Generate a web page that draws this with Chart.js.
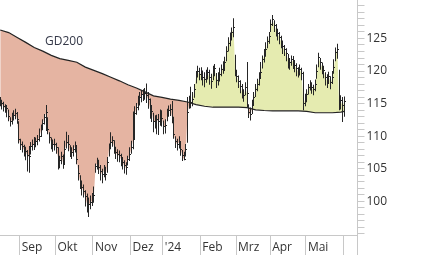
<!DOCTYPE html>
<html lang="de">
<head>
<meta charset="UTF-8">
<title>Kursverlauf mit GD200</title>
<script src="https://cdn.jsdelivr.net/npm/chart.js"></script>
<style>
    body { margin: 0; background: #fff; }
    #wrap { position: relative; width: 426px; height: 255px; }
    #gdLabel {
        position: absolute; left: 45px; top: 32px;
        font: 12px "Open Sans", sans-serif; color: #343848;
    }
</style>
</head>
<body>
<div id="wrap">
    <canvas id="chart" width="426" height="255"></canvas>
    <div id="gdLabel">GD200</div>
</div>
<script>
// month labels and index of the first trading day of each month (day 0 = mid August 2023)
const monthLabels = ['Sep', 'Okt', 'Nov', 'Dez', "'24", 'Feb', 'Mrz', 'Apr', 'Mai', ''];
const monthStarts = [12, 33, 55, 77, 96, 118, 139, 159, 180, 202];

// daily closes, highs and lows
const closes = [
    115.3, 114.9, 114.5, 114.3, 114.2, 113.0, 112.2, 112.5, 113.1, 113.4, 112.5, 109.4,
    108.7, 108.4, 107.9, 107.6, 107.0, 106.8, 108.4, 108.7, 108.8, 109.1, 109.4, 109.9, 111.0, 111.9, 112.8, 113.6, 111.0, 109.7, 109.0, 108.7, 108.7,
    108.2, 106.7, 106.2, 106.8, 105.9, 107.9, 109.0, 108.7, 107.7, 107.4, 107.9, 108.5, 106.4, 104.2, 103.0, 102.1, 101.5, 100.7, 99.6, 99.5, 99.8, 100.1,
    100.8, 105.3, 105.9, 105.1, 104.5, 104.1, 104.8, 104.1, 105.9, 108.2, 108.9, 109.3, 108.2, 107.4, 107.1, 107.0, 106.4, 105.9, 105.4, 105.1, 106.4, 107.1,
    108.2, 109.4, 113.4, 114.3, 115.1, 115.9, 116.3, 116.4, 116.5, 116.2, 115.6, 114.3, 113.7, 112.2, 112.3, 112.5, 112.2, 112.8, 112.7,
    111.4, 111.6, 113.3, 113.9, 114.0, 112.8, 110.2, 109.1, 108.7, 109.1, 107.9, 107.0, 106.4, 107.9, 113.5, 115.0, 115.1, 115.6, 117.1, 119.1, 119.9, 119.4,
    119.7, 118.9, 118.6, 119.2, 119.7, 118.9, 118.3, 119.9, 120.3, 118.5, 118.9, 119.4, 120.2, 120.6, 121.2, 122.9, 124.2, 124.8, 125.8, 126.6, 120.0,
    119.1, 118.3, 117.6, 116.8, 116.2, 117.4, 116.5, 113.5, 113.2, 114.6, 115.9, 117.1, 117.9, 118.8, 119.7, 121.7, 122.3, 123.2, 124.5, 125.2,
    127.1, 127.8, 126.9, 126.3, 125.7, 125.1, 124.5, 123.7, 123.2, 122.6, 121.7, 121.2, 121.7, 121.4, 120.8, 120.3, 119.9, 120.2, 119.6, 115.0, 115.6,
    116.3, 117.4, 117.9, 117.4, 117.1, 117.9, 119.9, 122.0, 121.2, 120.6, 120.0, 118.9, 118.5, 119.1, 118.2, 118.9, 120.5, 122.8, 123.2, 114.8, 115.4, 114.6,
    115.3
];
const highs = [
    116.0, 115.6, 115.3, 114.9, 114.8, 114.1, 112.9, 113.6, 114.0, 114.2, 113.7, 112.3,
    109.6, 109.2, 108.7, 108.4, 107.9, 108.5, 109.1, 109.5, 109.9, 109.8, 110.2, 111.2, 111.8, 112.6, 113.4, 114.8, 112.9, 110.6, 109.8, 109.5, 109.6,
    109.0, 108.3, 107.0, 107.6, 107.2, 109.3, 110.7, 110.2, 108.6, 108.3, 108.6, 109.2, 108.6, 105.6, 104.0, 103.2, 102.6, 101.7, 101.2, 100.6, 100.9, 101.3,
    102.3, 105.8, 106.7, 106.4, 105.6, 105.0, 105.6, 105.3, 106.8, 108.9, 110.6, 110.0, 109.4, 108.4, 108.0, 107.8, 107.3, 106.8, 106.3, 106.0, 107.0, 108.3,
    109.3, 113.8, 114.6, 115.1, 116.2, 116.8, 117.0, 117.2, 117.4, 118.1, 116.8, 115.8, 114.8, 113.6, 113.2, 113.3, 113.4, 114.1, 114.0,
    112.4, 112.6, 114.2, 114.7, 114.9, 115.4, 113.0, 110.0, 109.6, 110.0, 109.1, 107.9, 107.6, 108.8, 116.0, 116.2, 117.6, 116.8, 118.0, 120.0, 120.8, 120.5,
    120.6, 120.1, 119.8, 120.2, 120.6, 120.2, 119.6, 120.8, 121.1, 119.7, 119.8, 120.5, 121.0, 121.5, 122.2, 123.8, 125.2, 125.9, 126.7, 128.1, 122.5,
    120.2, 119.3, 118.6, 118.0, 117.2, 118.3, 121.4, 114.9, 114.4, 115.6, 116.8, 118.0, 118.8, 119.8, 121.4, 122.4, 123.4, 124.4, 125.3, 126.0,
    127.9, 128.6, 127.8, 127.2, 126.5, 126.0, 125.4, 124.7, 124.0, 123.5, 122.6, 122.0, 122.4, 122.3, 121.7, 121.2, 120.6, 121.0, 120.5, 119.9, 116.5,
    117.2, 118.0, 118.6, 118.3, 117.9, 118.7, 121.0, 122.8, 122.0, 121.3, 120.8, 119.8, 119.5, 119.9, 119.2, 120.0, 121.8, 123.6, 124.2, 120.2, 116.3, 116.0,
    116.1
];
const lows = [
    114.6, 114.1, 113.8, 113.6, 112.9, 112.3, 111.5, 111.8, 112.4, 112.6, 111.9, 108.9,
    107.9, 107.5, 106.9, 106.3, 104.6, 104.4, 107.2, 107.8, 107.9, 108.3, 108.6, 109.2, 109.9, 110.9, 111.8, 110.8, 110.3, 108.9, 108.0, 107.6, 107.8,
    107.3, 104.9, 105.1, 105.7, 105.0, 105.6, 108.1, 107.7, 106.8, 106.5, 106.9, 107.5, 105.7, 103.2, 101.9, 100.9, 100.6, 99.2, 98.3, 97.6, 98.8, 99.3,
    99.8, 104.4, 104.9, 104.2, 103.2, 102.8, 103.7, 103.2, 104.4, 106.9, 108.0, 108.4, 107.3, 106.5, 106.1, 106.0, 105.4, 104.9, 104.3, 104.1, 105.5, 106.2,
    107.3, 108.0, 109.5, 113.3, 114.0, 114.7, 115.2, 115.4, 115.6, 115.1, 114.2, 112.7, 112.2, 110.6, 111.2, 110.3, 110.2, 111.6, 111.5,
    110.3, 110.4, 112.3, 113.0, 113.1, 112.0, 109.6, 108.2, 107.8, 108.1, 107.0, 106.2, 106.3, 106.9, 109.0, 114.2, 114.3, 114.6, 115.9, 118.1, 119.0, 118.6,
    118.6, 117.8, 117.5, 118.2, 118.7, 117.9, 117.3, 118.6, 119.2, 117.4, 117.8, 118.4, 119.2, 119.6, 120.0, 121.5, 123.0, 123.8, 124.7, 125.2, 119.2,
    118.3, 117.4, 116.6, 115.8, 115.3, 116.3, 114.5, 112.8, 112.4, 113.4, 114.8, 116.0, 116.9, 117.8, 118.9, 120.4, 121.3, 122.2, 123.5, 124.2,
    126.0, 126.9, 126.0, 125.3, 124.7, 124.1, 123.5, 122.6, 122.3, 121.5, 120.4, 120.2, 120.8, 120.3, 119.8, 119.2, 119.0, 119.3, 118.6, 114.0, 114.6,
    115.2, 116.4, 117.0, 116.5, 116.3, 116.9, 118.8, 120.6, 120.2, 119.5, 118.9, 117.8, 117.4, 118.0, 117.2, 118.0, 119.6, 121.5, 121.9, 114.0, 114.1, 112.2,
    113.0
];

// 200-day moving average, read every 5 trading days
const gd200Days = [0, 5, 10, 15, 20, 25, 30, 35, 40, 45, 50, 55, 60, 65, 70, 75, 80, 85, 90, 95, 100,
    105, 110, 115, 120, 125, 130, 135, 140, 145, 150, 155, 160, 165, 170, 175, 180, 185, 190, 195, 200, 202];
const gd200 = [126.3, 125.9, 125.15, 124.4, 123.6, 123.05, 122.4, 121.9, 121.65, 121.35, 120.6, 120.1, 119.6, 119.05, 118.5,
    117.9, 117.4, 116.8, 116.2, 115.95, 115.7, 115.5, 115.25, 114.85, 114.6, 114.45, 114.45, 114.45, 114.45, 114.4,
    114.05, 113.95, 113.9, 113.9, 113.9, 113.9, 113.8, 113.6, 113.6, 113.6, 113.7, 113.8];

const FONT = '"Open Sans", sans-serif';
const AXIS_GREY = '#c8c8c8';
const TEXT = '#333';
const BAR = '#262626';

const noPadding = s => { s.paddingTop = 0; s.paddingBottom = 0; s.paddingLeft = 0; s.paddingRight = 0; };

// keep the 1px high/low bars and close ticks on whole pixels so they stay crisp
const snapBars = {
    id: 'snapBars',
    afterDatasetsUpdate(chart) {
        chart.getDatasetMeta(0).data.forEach(bar => { bar.x = Math.floor(bar.x) + 0.5; });
        chart.getDatasetMeta(3).data.forEach(tick => {
            tick.x = Math.floor(tick.x) + 1.5;
            tick.y = Math.round(tick.y);
            tick.base = tick.y + 1;
        });
    }
};

new Chart(document.getElementById('chart'), {
    type: 'line',
    data: {
        datasets: [
            {
                type: 'bar',
                label: 'Hoch/Tief',
                data: highs.map((h, i) => ({ x: i, y: [lows[i], h] })),
                backgroundColor: BAR,
                barThickness: 1,
                inflateAmount: 0,
                grouped: false,
                order: 0
            },
            {
                label: 'GD200',
                data: gd200Days.map((d, i) => ({ x: d, y: gd200[i] })),
                borderColor: '#222',
                borderWidth: 1.2,
                pointRadius: 0,
                fill: false,
                order: 1
            },
            {
                label: 'Schluss',
                data: closes.map((c, i) => ({ x: i, y: c })),
                borderColor: 'rgba(0,0,0,0)',
                borderWidth: 1,
                pointRadius: 0,
                fill: { target: 1, above: '#e5ebb0', below: '#e5b4a2' },
                order: 2
            },
            {
                type: 'bar',
                label: 'Schlusskurs',
                data: closes.map((c, i) => ({ x: i, y: [c, c + 0.15] })),
                backgroundColor: BAR,
                barThickness: 1,
                inflateAmount: 0,
                grouped: false,
                order: 0
            }
        ]
    },
    options: {
        responsive: false,
        animation: false,
        layout: { padding: 0, autoPadding: false },
        plugins: { legend: { display: false }, tooltip: { enabled: false } },
        scales: {
            x: {
                type: 'linear',
                min: -0.1,
                max: 209.8,
                offset: false,
                afterBuildTicks: s => {
                    s.ticks = monthStarts.map(d => ({ value: d - 0.5 })).concat([{ value: 209.8 }]);
                },
                afterFit: s => { s.height = 19.7; noPadding(s); },
                border: { color: AXIS_GREY },
                grid: { drawOnChartArea: false, offset: false, tickLength: 20, color: AXIS_GREY },
                ticks: {
                    autoSkip: false,
                    maxRotation: 0,
                    align: 'start',
                    padding: -15,
                    labelOffset: 2,
                    color: TEXT,
                    font: { family: FONT, size: 12 },
                    callback: (v, i) => monthLabels[i] || ''
                }
            },
            y: {
                position: 'right',
                min: 94.8,
                max: 130.9,
                afterFit: s => { s.width = 68.5; noPadding(s); },
                border: { color: AXIS_GREY },
                grid: { drawOnChartArea: false, tickLength: 7, color: AXIS_GREY },
                ticks: {
                    stepSize: 1,
                    autoSkip: false,
                    includeBounds: false,
                    padding: 2,
                    color: TEXT,
                    font: { family: FONT, size: 12 },
                    callback: v => (v % 5 === 0 && v >= 100 && v <= 125) ? v : ''
                }
            }
        }
    },
    plugins: [snapBars]
});
</script>
</body>
</html>
